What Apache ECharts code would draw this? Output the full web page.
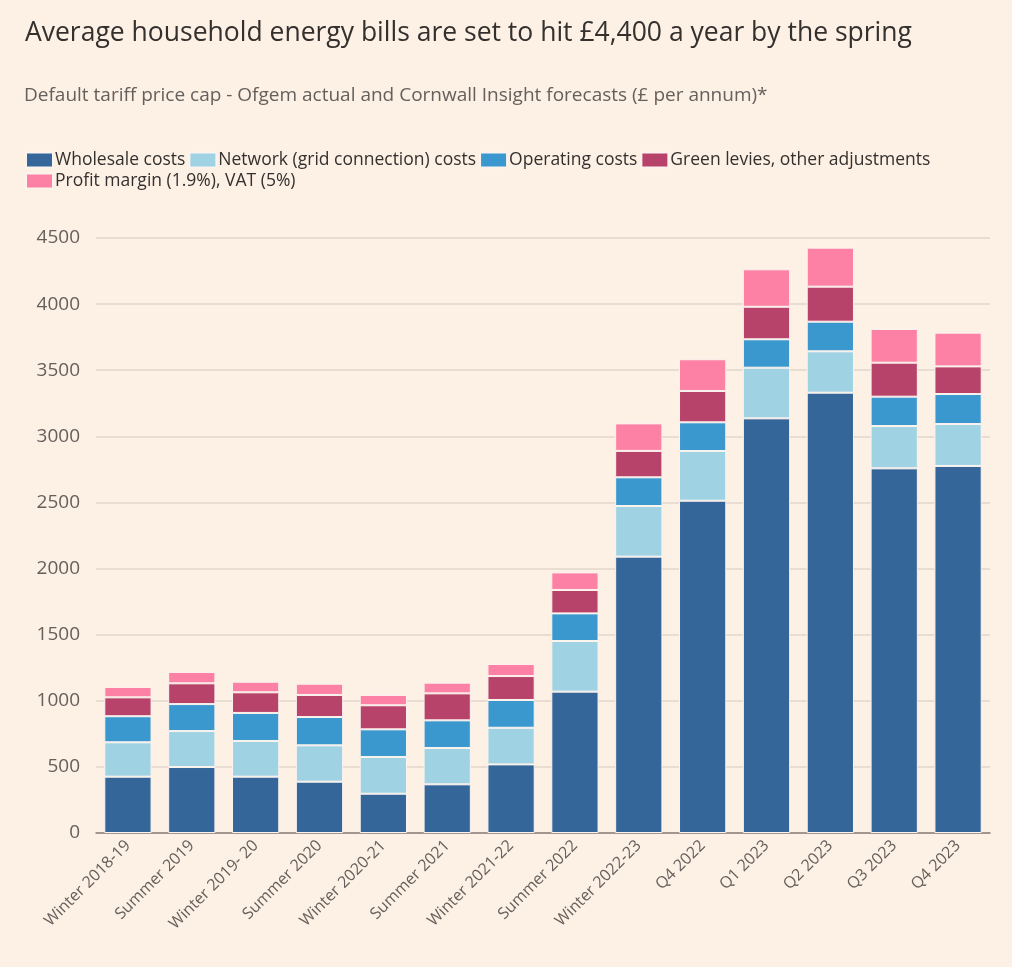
<!DOCTYPE html>
<html>
<head>
<meta charset="utf-8">
<script src="https://cdn.jsdelivr.net/npm/echarts@6/dist/echarts.min.js"></script>
<style>
  html, body { margin: 0; padding: 0; background: #fff; }
  #chart { width: 1012px; height: 967px; }
</style>
</head>
<body>
<div id="chart"></div>
<script>
// categories along the x axis
const periods = [
  'Winter 2018-19', 'Summer 2019', 'Winter 2019- 20', 'Summer 2020', 'Winter 2020-21',
  'Summer 2021', 'Winter 2021-22', 'Summer 2022', 'Winter 2022-23',
  'Q4 2022', 'Q1 2023', 'Q2 2023', 'Q3 2023', 'Q4 2023'
]

// £ per annum
const wholesale = [426, 499, 426, 388, 297, 368, 519, 1069, 2090, 2513, 3136, 3330, 2758, 2776]
const network   = [260, 272, 270, 275, 278, 275, 277, 383, 383, 376, 383, 313, 320, 317]
const operating = [197, 204, 212, 214, 209, 209, 210, 209, 217, 217, 215, 224, 222, 227]
const green     = [143, 157, 156, 167, 182, 204, 181, 177, 200, 237, 246, 265, 257, 209]
const profit    = [78, 86, 80, 85, 78, 81, 91, 133, 208, 240, 283, 295, 255, 255]

const seriesNames = [
  'Wholesale costs',
  'Network (grid connection) costs',
  'Operating costs',
  'Green levies, other adjustments',
  'Profit margin (1.9%), VAT (5%)'
]
const seriesData = [wholesale, network, operating, green, profit]
const colors = ['#34669a', '#9fd3e3', '#3a98cf', '#b8436a', '#fd80a5']

const yTicks = [0, 500, 1000, 1500, 2000, 2500, 3000, 3500, 4000, 4500]

const font = 'Open Sans'
const textGrey = '#66605c'

const chart = echarts.init(document.getElementById('chart'))

const option = {
  animation: false,
  backgroundColor: '#fdf0e5',
  title: [
    {
      text: 'Average household energy bills are set to hit £4,400 a year by the spring',
      left: 20,
      top: 15,
      textStyle: { fontFamily: font, fontSize: 26.5, fontWeight: 'normal', color: '#33302e' }
    },
    {
      text: 'Default tariff price cap - Ofgem actual and Cornwall Insight forecasts (£ per annum)*',
      left: 19,
      top: 81,
      textStyle: { fontFamily: font, fontSize: 19, fontWeight: 'normal', color: textGrey }
    }
  ],
  legend: {
    left: 20,
    top: 146,
    width: 970,
    itemWidth: 27,
    itemHeight: 15,
    itemGap: 3,
    icon: 'rect',
    textStyle: { fontFamily: font, fontSize: 17.5, color: '#33302e', padding: [0, 0, 0, -3] },
    data: seriesNames
  },
  grid: { left: 96, right: 22, top: 238, bottom: 134 },
  xAxis: {
    type: 'category',
    data: periods,
    axisLine: { lineStyle: { color: '#8a7f78', width: 1.5 } },
    axisTick: { alignWithLabel: true, length: 7, lineStyle: { color: '#8a7f78' } },
    axisLabel: {
      rotate: 45,
      interval: 0,
      margin: 10,
      fontFamily: font,
      fontSize: 16,
      color: textGrey
    }
  },
  yAxis: {
    type: 'value',
    min: yTicks[0],
    max: yTicks[yTicks.length - 1],
    interval: 500,
    axisLine: { show: false },
    axisTick: { show: false },
    axisLabel: {
      fontFamily: font,
      fontSize: 19,
      color: textGrey,
      margin: 16,
      formatter: v => String(v)
    },
    splitLine: { lineStyle: { color: '#e2d7cd', width: 1.5 } }
  },
  series: seriesNames.map((name, i) => ({
    name,
    type: 'bar',
    stack: 'total',
    barCategoryGap: '26%',
    data: seriesData[i],
    itemStyle: { color: colors[i], borderColor: '#fbf3ee', borderWidth: 1 }
  }))
}

chart.setOption(option)
</script>
</body>
</html>
